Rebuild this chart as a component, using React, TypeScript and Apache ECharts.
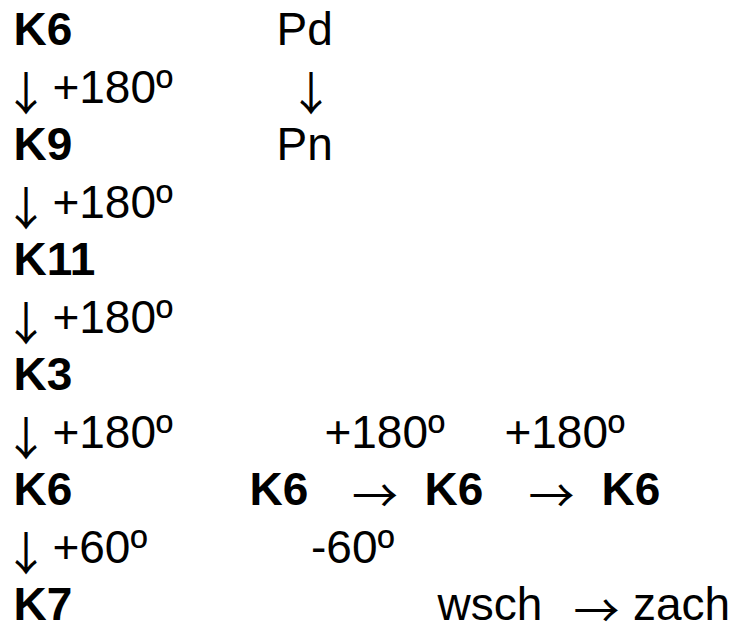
import React, { useEffect, useRef } from "react";
import * as echarts from "echarts";

// ---- content ----
const mainChain = ["K6", "K9", "K11", "K3", "K6", "K7"];
const mainSteps = ["+180º", "+180º", "+180º", "+180º", "+60º"];
const sideChain = ["Pd", "Pn"];
const branchNodes = ["K6", "K6", "K6"];
const branchSteps = ["+180º", "+180º", "+180º"];
const branchReturn = "-60º";
const directionWords = ["wsch", "zach"];
const DOWN = "↓";
const RIGHT = "→";

// ---- layout ----
const W = 737;
const H = 623;
const FS = 46;
const SANS = "'Liberation Sans', Arial, sans-serif";
const ARROW_FONT = "'Noto Sans CJK SC', 'Liberation Serif', serif";
const ROW0 = 45;
const ROWSTEP = 57.5;

function baseline(row: number) {
  return ROW0 + row * ROWSTEP;
}

function txt(text: string, x: number, row: number, bold = false) {
  return {
    type: "text",
    x,
    y: baseline(row) - FS * 0.3465,
    style: {
      text,
      fill: "#000",
      font: `${bold ? "bold " : ""}${FS}px ${SANS}`,
      textAlign: "left",
      verticalAlign: "middle",
    },
  };
}

// arrow glyph, positioned by the centre of its ink box
function arrow(text: string, cx: number, row: number) {
  return {
    type: "text",
    x: cx,
    y: baseline(row) - 13,
    style: {
      text,
      fill: "#000",
      font: `${FS}px ${ARROW_FONT}`,
      textAlign: "center",
      verticalAlign: "middle",
    },
  };
}

export default function App() {
  const ref = useRef<HTMLDivElement>(null);
  useEffect(() => {
    if (!ref.current) return;
    const chart = echarts.init(ref.current, undefined, { renderer: "svg" });
    const els: any[] = [];
    // main chain
    mainChain.forEach((k, i) => {
      els.push(txt(k, 13.6, i * 2, true));
    });
    mainSteps.forEach((s, i) => {
      els.push(arrow(DOWN, 26, i * 2 + 1));
      els.push(txt(s, 52.4, i * 2 + 1));
    });
    // side chain
    els.push(txt(sideChain[0], 276.5, 0));
    els.push(arrow(DOWN, 311, 1));
    els.push(txt(sideChain[1], 276.5, 2));
    // branch
    const branchX = [249.6, 424.6, 601.6];
    branchNodes.forEach((k, i) => {
      els.push(txt(k, branchX[i], 8, true));
    });
    els.push(arrow(RIGHT, 375, 8));
    els.push(arrow(RIGHT, 551.5, 8));
    els.push(txt(branchSteps[1], 324.4, 7));
    els.push(txt(branchSteps[2], 504.4, 7));
    els.push(txt(branchReturn, 311, 9));
    els.push(txt(directionWords[0], 437.5, 10));
    els.push(arrow(RIGHT, 596.5, 10));
    els.push(txt(directionWords[1], 633, 10));

    chart.setOption({
      animation: false,
      backgroundColor: "#fff",
      graphic: { elements: els },
    });
    return () => chart.dispose();
  }, []);
  return (
    <div
      ref={ref}
      style={{ position: "fixed", left: 0, top: 0, width: W, height: H, background: "#fff" }}
    />
  );
}
